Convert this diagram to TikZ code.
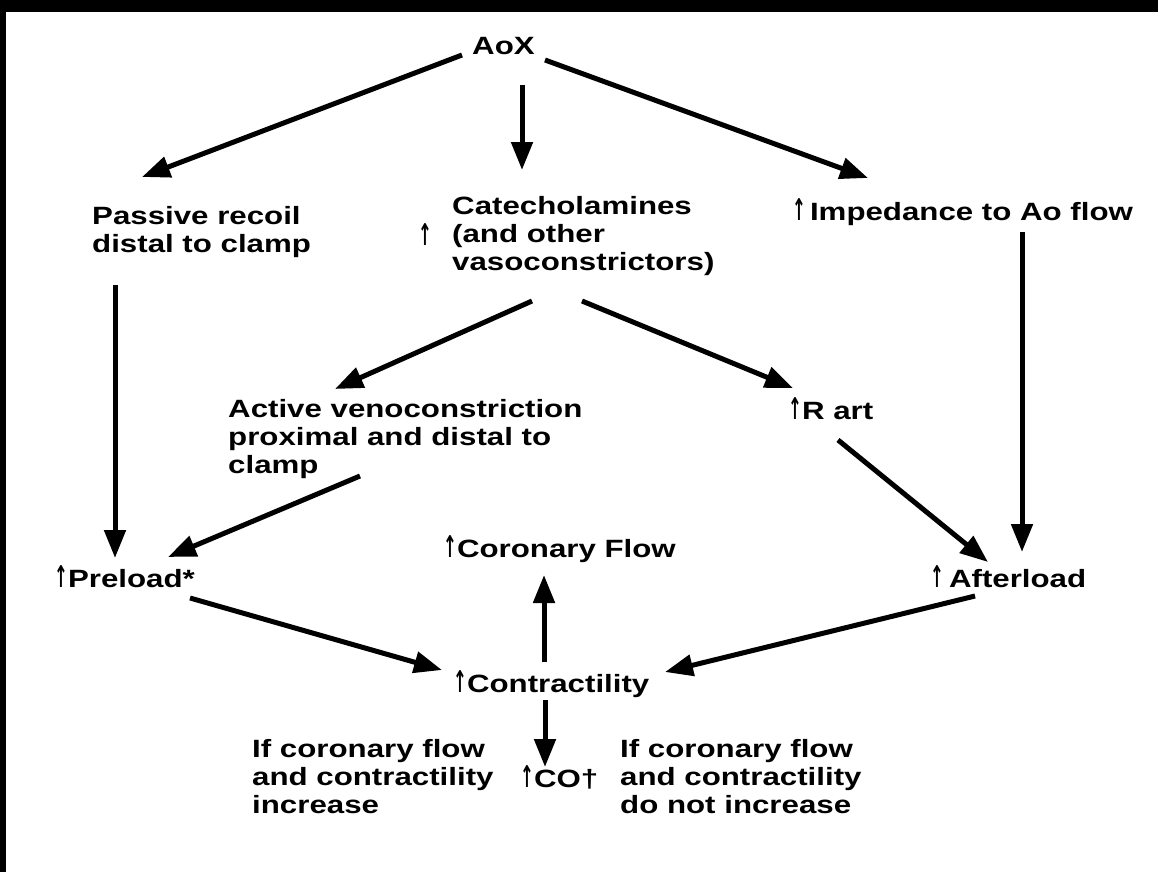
\documentclass[tikz,border=0pt]{standalone}
\usepackage{fontspec}
\setmainfont{Liberation Sans}[FakeStretch=1.25]
\newfontfamily\arrowfont{DejaVu Sans}
\usetikzlibrary{arrows.meta,calc}

% narrow "increase" arrow in front of a label
\newcommand{\upar}{{\arrowfont\bfseries\fontsize{30}{30}\selectfont\scalebox{0.55}[1]{↑}}}

\begin{document}
\begin{tikzpicture}[x=1pt,y=-1pt,
  lbl/.style={font=\fontsize{25}{28}\selectfont\bfseries, inner sep=0pt,
              anchor=base west, align=left},
  flow/.style={line width=5pt, -{Triangle[length=28pt,width=21pt]}},
]
% frame
\fill[black] (0,0) rectangle (1158,872);
\fill[white] (6,12) rectangle (1158,872);
\useasboundingbox (0,0) rectangle (1158,872);

% labels (anchored at the baseline of their last line)
\node[lbl] (aox)     at (472,55)  {AoX};
\node[lbl] (passive) at (92,252)  {Passive recoil\\distal to clamp};
\node[lbl] (catup)   at (418,245) {\upar};
\node[lbl] (cat)     at (452,270) {Catecholamines\\(and other\\vasoconstrictors)};
\node[lbl] (imp)     at (792,220) {\upar\hspace{4pt}Impedance to Ao flow};
\node[lbl] (active)  at (228,473) {Active venoconstriction\\proximal and distal to\\clamp};
\node[lbl] (rart)    at (788,419) {\upar R art};
\node[lbl] (pre)     at (54,587)  {\upar Preload*};
\node[lbl] (cor)     at (443,557) {\upar Coronary Flow};
\node[lbl] (aft)     at (930,587) {\upar\hspace{5pt}Afterload};
\node[lbl] (con)     at (453,692) {\upar Contractility};
\node[lbl] (ifyes)   at (252,813) {If coronary flow\\and contractility\\increase};
\node[lbl] (co)      at (520,787) {\upar CO†};
\node[lbl] (ifno)    at (620,813) {If coronary flow\\and contractility\\do not increase};

% connectors
\draw[flow] ($(aox.base west)+(-10,0)$)     -- ($(passive.base west)+(50,-75)$);
\draw[flow] ($(aox.base west)+(50,30)$)     -- ($(cat.base west)+(70,-100)$);
\draw[flow] ($(aox.base west)+(73,5)$)      -- ($(imp.base west)+(76,-42)$);
\draw[flow] ($(passive.base west)+(23,33)$) -- ($(pre.base west)+(61,-29)$);
\draw[flow] ($(cat.base west)+(80,31)$)     -- ($(active.base west)+(107,-84)$);
\draw[flow] ($(cat.base west)+(130,31)$)    -- ($(rart.base west)+(5,-31)$);
\draw[flow] ($(imp.base west)+(230,12)$)    -- ($(aft.base west)+(92,-35)$);
\draw[flow] ($(active.base west)+(132,3)$)  -- ($(pre.base west)+(114,-30)$);
\draw[flow] ($(rart.base west)+(50,21)$)    -- ($(aft.base west)+(58,-25)$);
\draw[flow] ($(pre.base west)+(136,11)$)    -- ($(con.base west)+(-11,-22)$);
\draw[flow] ($(aft.base west)+(45,9)$)      -- ($(con.base west)+(212,-20)$);
\draw[flow] ($(con.base west)+(91,-30)$)    -- ($(cor.base west)+(101,18)$);
\draw[flow] ($(con.base west)+(92,8)$)      -- ($(co.base west)+(25,-20)$);
\end{tikzpicture}
\end{document}
